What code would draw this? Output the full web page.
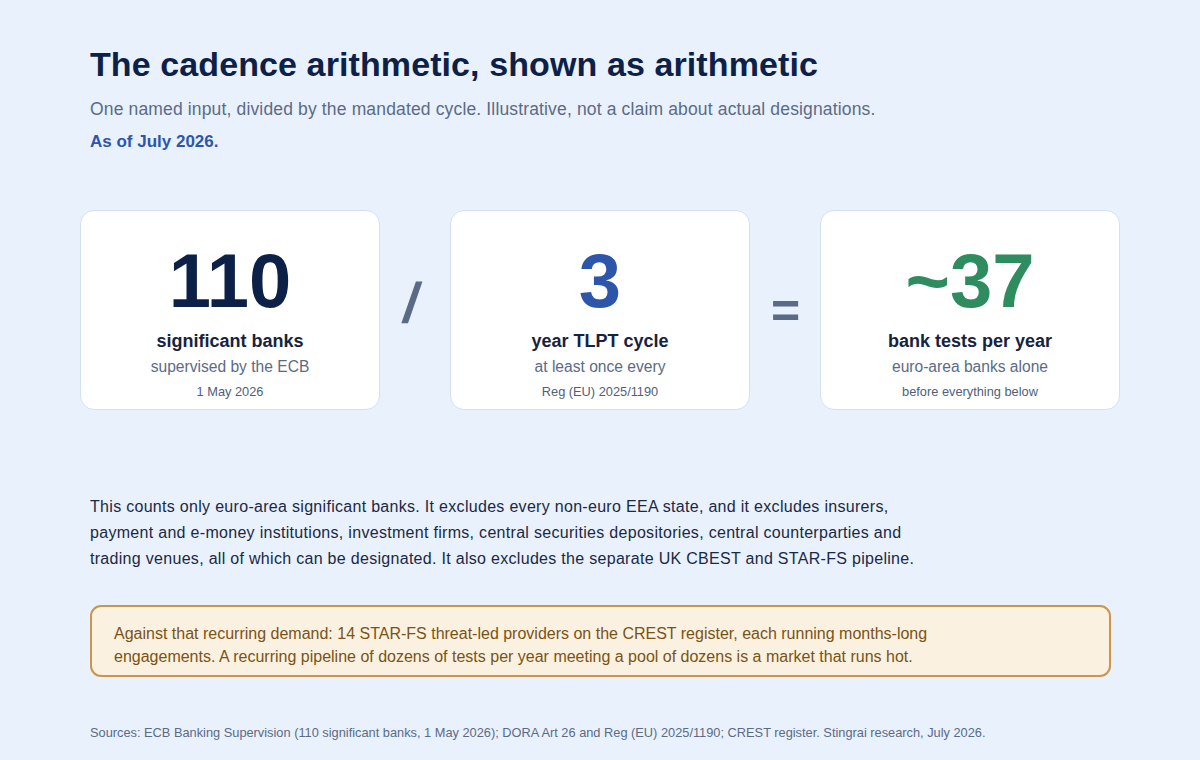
<!DOCTYPE html>
<html>
<head>
<meta charset="utf-8">
<script src="https://cdn.jsdelivr.net/npm/chart.js@4/dist/chart.umd.min.js"></script>
<style>
  html, body { margin: 0; padding: 0; }
  body {
    width: 1200px; height: 760px; background: #e9f1fd; position: relative;
    font-family: "Liberation Sans", Arial, Helvetica, sans-serif; overflow: hidden;
  }
  .title { position: absolute; left: 90px; top: 45px; font-size: 34px; font-weight: bold; color: #0d2148; letter-spacing: 0.1px; }
  .sub { position: absolute; left: 90px; top: 99px; font-size: 17.5px; color: #5b6b86; letter-spacing: 0.15px; }
  .asof { position: absolute; left: 90px; top: 132px; font-size: 17px; font-weight: bold; color: #2d56aa; }
  .card {
    position: absolute; top: 210px; width: 298px; height: 198px; background: #fff;
    border: 1px solid #d3e0f2; border-radius: 14px; text-align: center;
  }
  .num { position: absolute; left: 0; right: 0; top: 32px; font-size: 76px; font-weight: bold; line-height: 1; }
  .lbl { position: absolute; left: 0; right: 0; top: 120px; font-size: 18px; font-weight: bold; color: #15233f; }
  .desc { position: absolute; left: 0; right: 0; top: 147px; font-size: 15.6px; color: #5b6b86; }
  .note { position: absolute; left: 0; right: 0; top: 173px; font-size: 12.8px; color: #4f5f7a; }
  .op { position: absolute; font-weight: bold; color: #5b6b86; line-height: 1; }
  .para { position: absolute; left: 90px; top: 494px; width: 850px; font-size: 16px; letter-spacing: 0.3px; line-height: 26px; color: #1a2944; }
  .callout {
    position: absolute; left: 90px; top: 605px; width: 1021px; height: 72px; background: #fbf1e0;
    border: 2px solid #c9964c; border-radius: 11px; box-sizing: border-box;
  }
  .callout div { position: absolute; left: 22px; top: 15px; width: 980px; font-size: 16px; line-height: 23px; color: #7a5316; }
  .src { position: absolute; left: 90px; top: 725px; font-size: 12.8px; color: #5b6b86; }
</style>
</head>
<body>
<div class="title">The cadence arithmetic, shown as arithmetic</div>
<div class="sub">One named input, divided by the mandated cycle. Illustrative, not a claim about actual designations.</div>
<div class="asof">As of July 2026.</div>
<div id="cards"></div>
<div class="para">This counts only euro-area significant banks. It excludes every non-euro EEA state, and it excludes insurers, payment and e-money institutions, investment firms, central securities depositories, central counterparties and trading venues, all of which can be designated. It also excludes the separate UK CBEST and STAR-FS pipeline.</div>
<div class="callout"><div>Against that recurring demand: 14 STAR-FS threat-led providers on the CREST register, each running months-long<br>engagements. A recurring pipeline of dozens of tests per year meeting a pool of dozens is a market that runs hot.</div></div>
<div class="src">Sources: ECB Banking Supervision (110 significant banks, 1 May 2026); DORA Art 26 and Reg (EU) 2025/1190; CREST register. Stingrai research, July 2026.</div>
<script>
// The three terms of the sum
const values = ["110", "3", "~37"];
const labels = ["significant banks", "year TLPT cycle", "bank tests per year"];
const descs = ["supervised by the ECB", "at least once every", "euro-area banks alone"];
const notes = ["1 May 2026", "Reg (EU) 2025/1190", "before everything below"];
const operators = ["/", "="];

const colours = ["#0d2148", "#2d56aa", "#2e8c5f"];
const cardX = [80, 450, 820];

const wrap = document.getElementById("cards");
values.forEach((v, i) => {
  const c = document.createElement("div");
  c.className = "card";
  c.style.left = cardX[i] + "px";
  c.innerHTML = `<div class="num" style="color:${colours[i]}">${v}</div>` +
    `<div class="lbl">${labels[i]}</div><div class="desc">${descs[i]}</div><div class="note">${notes[i]}</div>`;
  wrap.appendChild(c);
});

// operators between the cards: slash leans a bit more, equals a bit smaller
const opStyle = [
  { left: 404, top: 275, size: 56, transform: "skewX(-9deg)" },
  { left: 771, top: 286, size: 50, transform: "none" },
];
operators.forEach((o, i) => {
  const d = document.createElement("div");
  d.className = "op";
  d.style.left = opStyle[i].left + "px";
  d.style.top = opStyle[i].top + "px";
  d.style.fontSize = opStyle[i].size + "px";
  d.style.transform = opStyle[i].transform;
  d.textContent = o;
  wrap.appendChild(d);
});
</script>
</body>
</html>
